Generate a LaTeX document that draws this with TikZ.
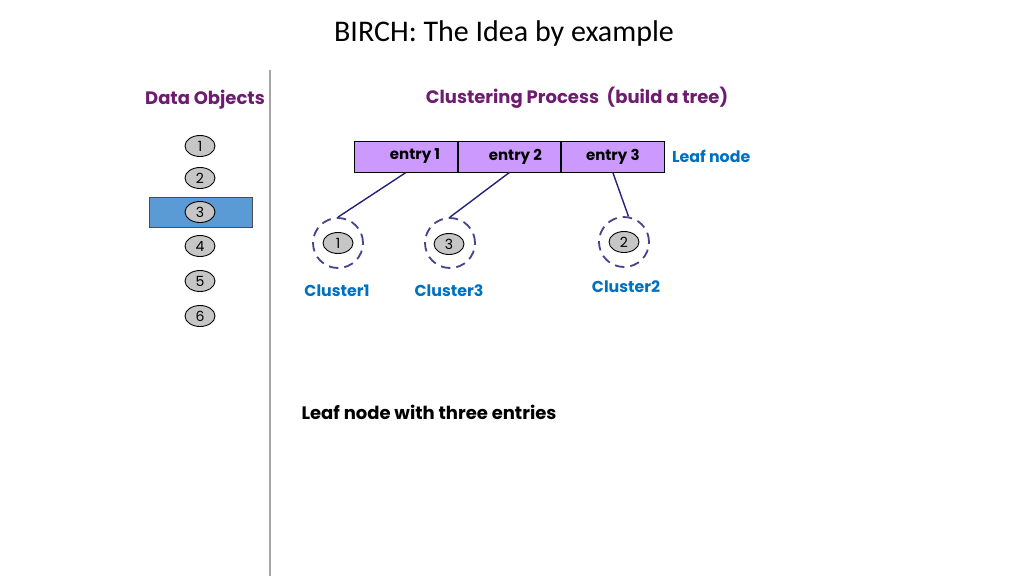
\documentclass[tikz,border=0pt]{standalone}
\usepackage{fontspec}
\setmainfont{Carlito}
\newfontfamily\gothic{Poppins}[UprightFont=*, BoldFont=* Bold]
\usetikzlibrary{shapes.geometric, positioning}
\definecolor{titlepurple}{HTML}{6E1C70}
\definecolor{leafblue}{HTML}{0070C0}
\definecolor{entryfill}{HTML}{CC99FF}
\definecolor{pickblue}{HTML}{5B9BD5}
\definecolor{linknavy}{HTML}{24217A}
\tikzset{
  obj/.style={ellipse, draw, line width=0.9pt, fill=gray!45, minimum width=30pt, minimum height=21pt, inner sep=0pt, font=\gothic\fontsize{14}{14}\selectfont},
  cell/.style={rectangle, draw, line width=0.9pt, fill=entryfill, minimum width=102.5pt, minimum height=31pt, inner sep=0pt, font=\gothic\bfseries\fontsize{15}{15}\selectfont},
  cluster/.style={circle, draw=linknavy!85, dash pattern=on 9.5pt off 6pt, line width=1.8pt, minimum size=50pt, inner sep=0pt},
  head/.style={font=\gothic\bfseries\fontsize{18}{18}\selectfont, text=titlepurple},
  clabel/.style={font=\gothic\bfseries\fontsize{15.8}{15.8}\selectfont, text=leafblue}
}
\begin{document}
\begin{tikzpicture}[x=1pt, y=-1pt]
            \useasboundingbox (0,0) rectangle (1024,576);
            \node[font=\fontsize{30}{30}\selectfont] (title) at (504,33) {BIRCH: The Idea by example};
            \coordinate (sepTop) at (270,70);
            \coordinate (sepBot) at (270,576);
            \draw[gray!70, line width=1.5pt] (sepTop) -- (sepBot);
            % data objects
            \node[head] (dataHead) at (205,100) {Data Objects};
            \node[rectangle, draw=black!70, fill=pickblue, minimum width=103pt, minimum height=30pt] (pick) at (200.5,212) {};
            \node[obj] (d1) at (200,146) {1};
            \node[obj] (d2) at (200,178) {2};
            \node[obj] (d3) at (200,212) {3};
            \node[obj] (d4) at (200,246) {4};
            \node[obj] (d5) at (200,281) {5};
            \node[obj] (d6) at (200,316) {6};
            % clustering process
            \node[head] (procHead) at (577,98) {Clustering Process\ \ (build a tree)};
            \node[cell] (e1) at (406,156.5) {\hspace*{18pt}entry 1};
            \node[cell, right=0pt of e1] (e2) {\hspace*{12pt}entry 2};
            \node[cell, right=0pt of e2] (e3) {entry 3};
            \node[clabel, right=4pt of e3] (leafLabel) {Leaf node};
            \node[cluster] (c1) at (338,243) {};
            \node[cluster] (c3) at (450,243) {};
            \node[cluster] (c2) at (624,242) {};
            \node[obj] (k1) at (338,243) {1};
            \node[obj] (k3) at (449,244) {3};
            \node[obj] (k2) at (624,242) {2};
            \draw[linknavy, line width=1.4pt] (e1.south) -- (c1.north);
            \draw[linknavy, line width=1.4pt] (e2.south) -- (c3.north);
            \draw[linknavy, line width=1.4pt] (e3.south) -- (c2.80);
            \node[clabel] (l1) at (337,291) {Cluster1};
            \node[clabel] (l3) at (449,291) {Cluster3};
            \node[clabel] (l2) at (626,287) {Cluster2};
            \node[font=\gothic\bfseries\fontsize{18}{18}\selectfont] (note) at (429,412) {Leaf node with three entries};
        \end{tikzpicture}
\end{document}
